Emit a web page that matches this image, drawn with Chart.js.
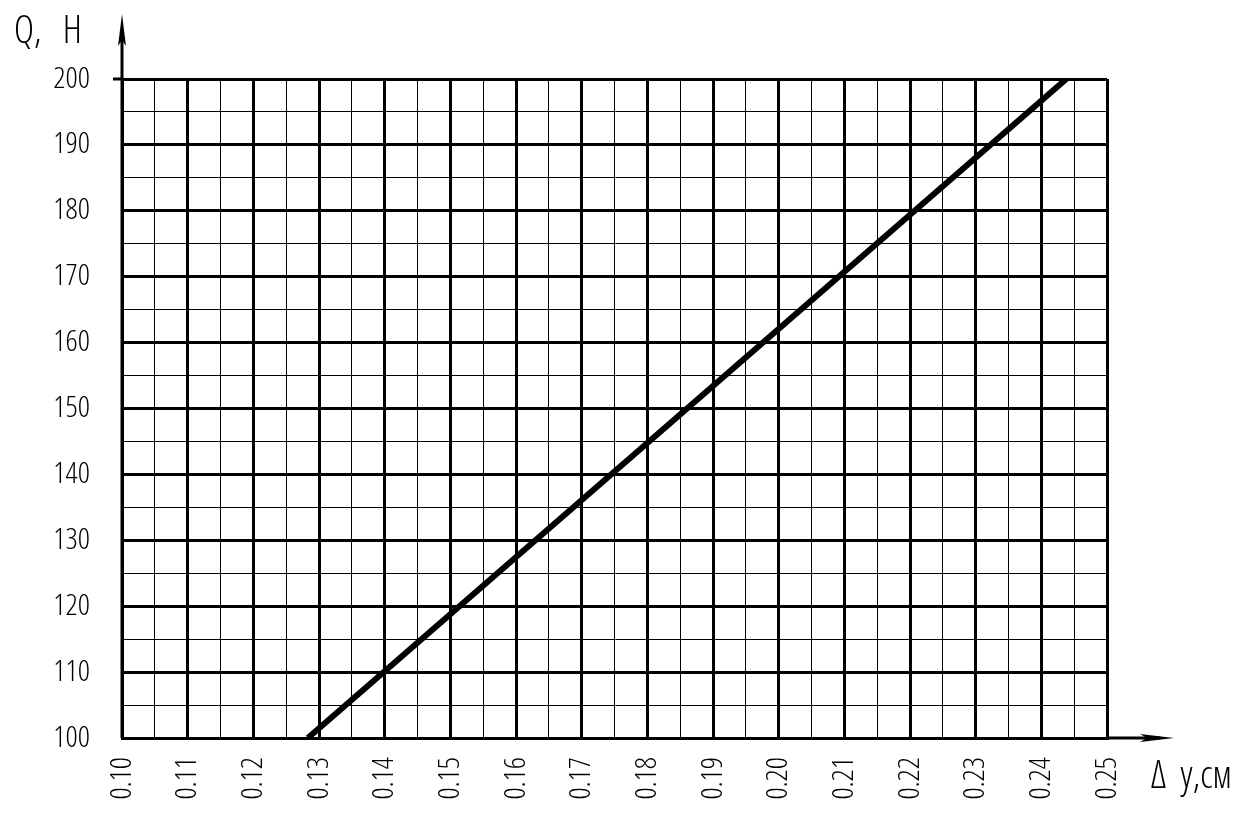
<!DOCTYPE html>
<html lang="ru">
<head>
  <meta charset="UTF-8">
  <title>Q(Δy)</title>
  <script src="https://cdn.jsdelivr.net/npm/chart.js"></script>
</head>
<style>
  body { margin: 0; background: #fff; }
</style>
<body>
  <canvas id="chartCanvas" width="1260" height="818"></canvas>

  <script>
    // данные
    const deltaY = [0.1283, 0.2438];   // Δy, см
    const loadQ = [100, 200];          // Q, Н
    const xMin = 0.10, xMax = 0.25, xStep = 0.005;
    const yMin = 100, yMax = 200, yStep = 5;
    const yTitle = 'Q,   Н';
    const xTitle = 'Δ  y,см';

    // узкий светлый шрифт (похож на чертёжный)
    const FAMILY = '"Open Sans", "DejaVu Sans Condensed", sans-serif';
    const WEIGHT = '300 condensed';

    const isMajorX = v => Math.round(v * 1000) % 10 === 0;
    const isMajorY = v => Math.round(v) % 10 === 0;

    const arrows = {
      id: 'arrows',
      afterDraw(chart) {
        const c = chart.ctx;
        const { left, right, top, bottom } = chart.chartArea;
        c.save();
        c.strokeStyle = '#000';
        c.fillStyle = '#000';
        c.lineWidth = 3;
        // ось Q со стрелкой
        c.beginPath();
        c.moveTo(left, bottom);
        c.lineTo(left, 30);
        c.stroke();
        c.beginPath();
        c.moveTo(left, 14);
        c.lineTo(left - 4, 46);
        c.lineTo(left, 40);
        c.lineTo(left + 4, 46);
        c.closePath();
        c.fill();
        // ось Δy со стрелкой
        c.beginPath();
        c.moveTo(right, bottom);
        c.lineTo(1160, bottom);
        c.stroke();
        c.beginPath();
        c.moveTo(1174, bottom);
        c.lineTo(1140, bottom - 4);
        c.lineTo(1147, bottom);
        c.lineTo(1140, bottom + 4);
        c.closePath();
        c.fill();
        // засечка у 200
        c.beginPath();
        c.moveTo(left - 9, top);
        c.lineTo(left, top);
        c.stroke();
        // подписи осей
        c.font = WEIGHT + ' 38px ' + FAMILY;
        c.textBaseline = 'alphabetic';
        c.textAlign = 'left';
        c.fillText(yTitle, 14, 43);
        c.fillText(xTitle, 1151, 788);
        c.restore();
      }
    };

    const ctx = document.getElementById('chartCanvas').getContext('2d');
    const chart = new Chart(ctx, {
      type: 'scatter',
      data: {
        datasets: [{
          data: deltaY.map((x, i) => ({ x: x, y: loadQ[i] })),
          showLine: true,
          borderColor: '#000',
          borderWidth: 6,
          pointRadius: 0,
          fill: false
        }]
      },
      options: {
        responsive: false,
        animation: false,
        layout: { padding: { left: 0, top: 79, right: 153, bottom: 0 } },
        plugins: {
          legend: { display: false },
          tooltip: { enabled: false }
        },
        scales: {
          x: {
            type: 'linear',
            min: xMin,
            max: xMax,
            afterFit: s => { s.height = 80; },
            border: { display: true, color: '#000', width: 3 },
            grid: {
              color: '#000',
              drawTicks: false,
              lineWidth: c => (c.tick && isMajorX(c.tick.value)) ? 3 : 1
            },
            ticks: {
              stepSize: xStep,
              autoSkip: false,
              minRotation: 90,
              maxRotation: 90,
              padding: 19,
              color: '#000',
              font: { family: FAMILY, weight: WEIGHT, size: 30 },
              callback: v => isMajorX(v) ? v.toFixed(2) : ''
            }
          },
          y: {
            type: 'linear',
            min: yMin,
            max: yMax,
            afterFit: s => { s.width = 122; },
            border: { display: true, color: '#000', width: 3 },
            grid: {
              color: '#000',
              drawTicks: false,
              lineWidth: c => (c.tick && isMajorY(c.tick.value)) ? 3 : 1
            },
            ticks: {
              stepSize: yStep,
              autoSkip: false,
              padding: 32,
              color: '#000',
              font: { family: FAMILY, weight: WEIGHT, size: 30 },
              callback: v => isMajorY(v) ? String(v) : ''
            }
          }
        }
      },
      plugins: [arrows]
    });
  </script>
</body>
</html>
